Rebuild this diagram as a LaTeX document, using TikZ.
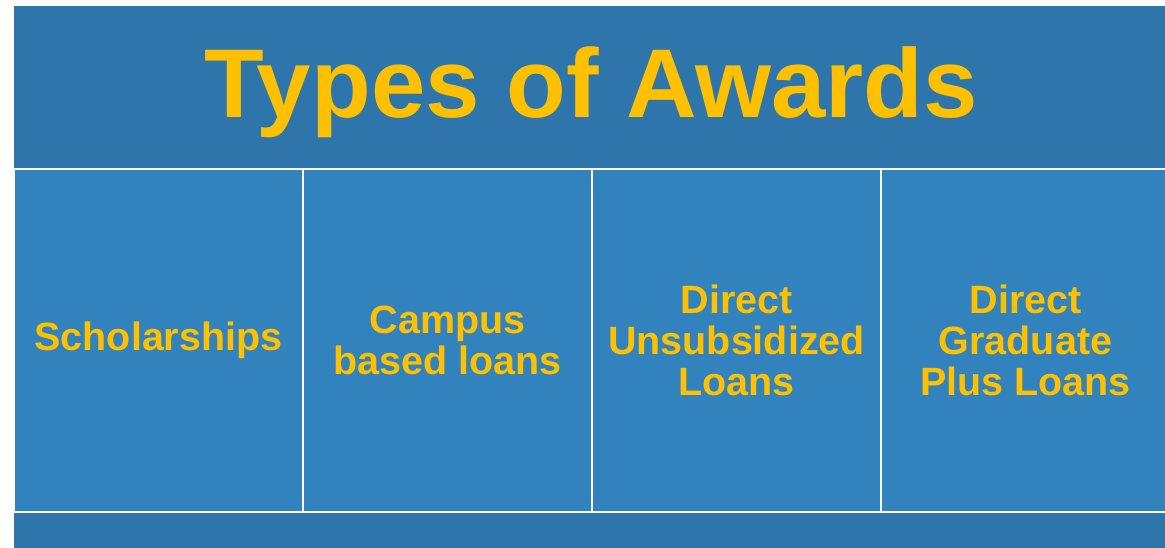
\documentclass[tikz,border=0pt]{standalone}
\usepackage{fontspec}
\setmainfont{Liberation Sans}
\usetikzlibrary{positioning}
\definecolor{bandblue}{RGB}{46,117,171}
\definecolor{cellblue}{RGB}{50,131,189}
\definecolor{awardgold}{RGB}{255,192,0}

\begin{document}
\begin{tikzpicture}[x=0.75pt, y=-0.75pt,
    award/.style={rectangle, draw=white, line width=1.2pt, fill=cellblue, inner sep=0pt, outer sep=0pt,
      minimum width=216.75pt, minimum height=257.25pt, text=awardgold, align=center,
      font=\bfseries\fontsize{29.6}{30.75}\selectfont}]
      \useasboundingbox (0,0) rectangle (1165,548);
      \fill[bandblue] (14,6) rectangle (1165,548);

      \node[text=awardgold, anchor=base, font=\bfseries\fontsize{73.3}{80}\selectfont] (title) at (591,118) {Types of Awards};

      \node[award] (scholar) at (158.5,340.5) {Scholarships};
      \node[award, right=0pt of scholar] (campus) {Campus\\based loans};
      \node[award, right=0pt of campus] (unsub) {Direct\\Unsubsidized\\Loans};
      \node[award, right=0pt of unsub] (gradplus) {Direct\\Graduate\\Plus Loans};
    \end{tikzpicture}
\end{document}
